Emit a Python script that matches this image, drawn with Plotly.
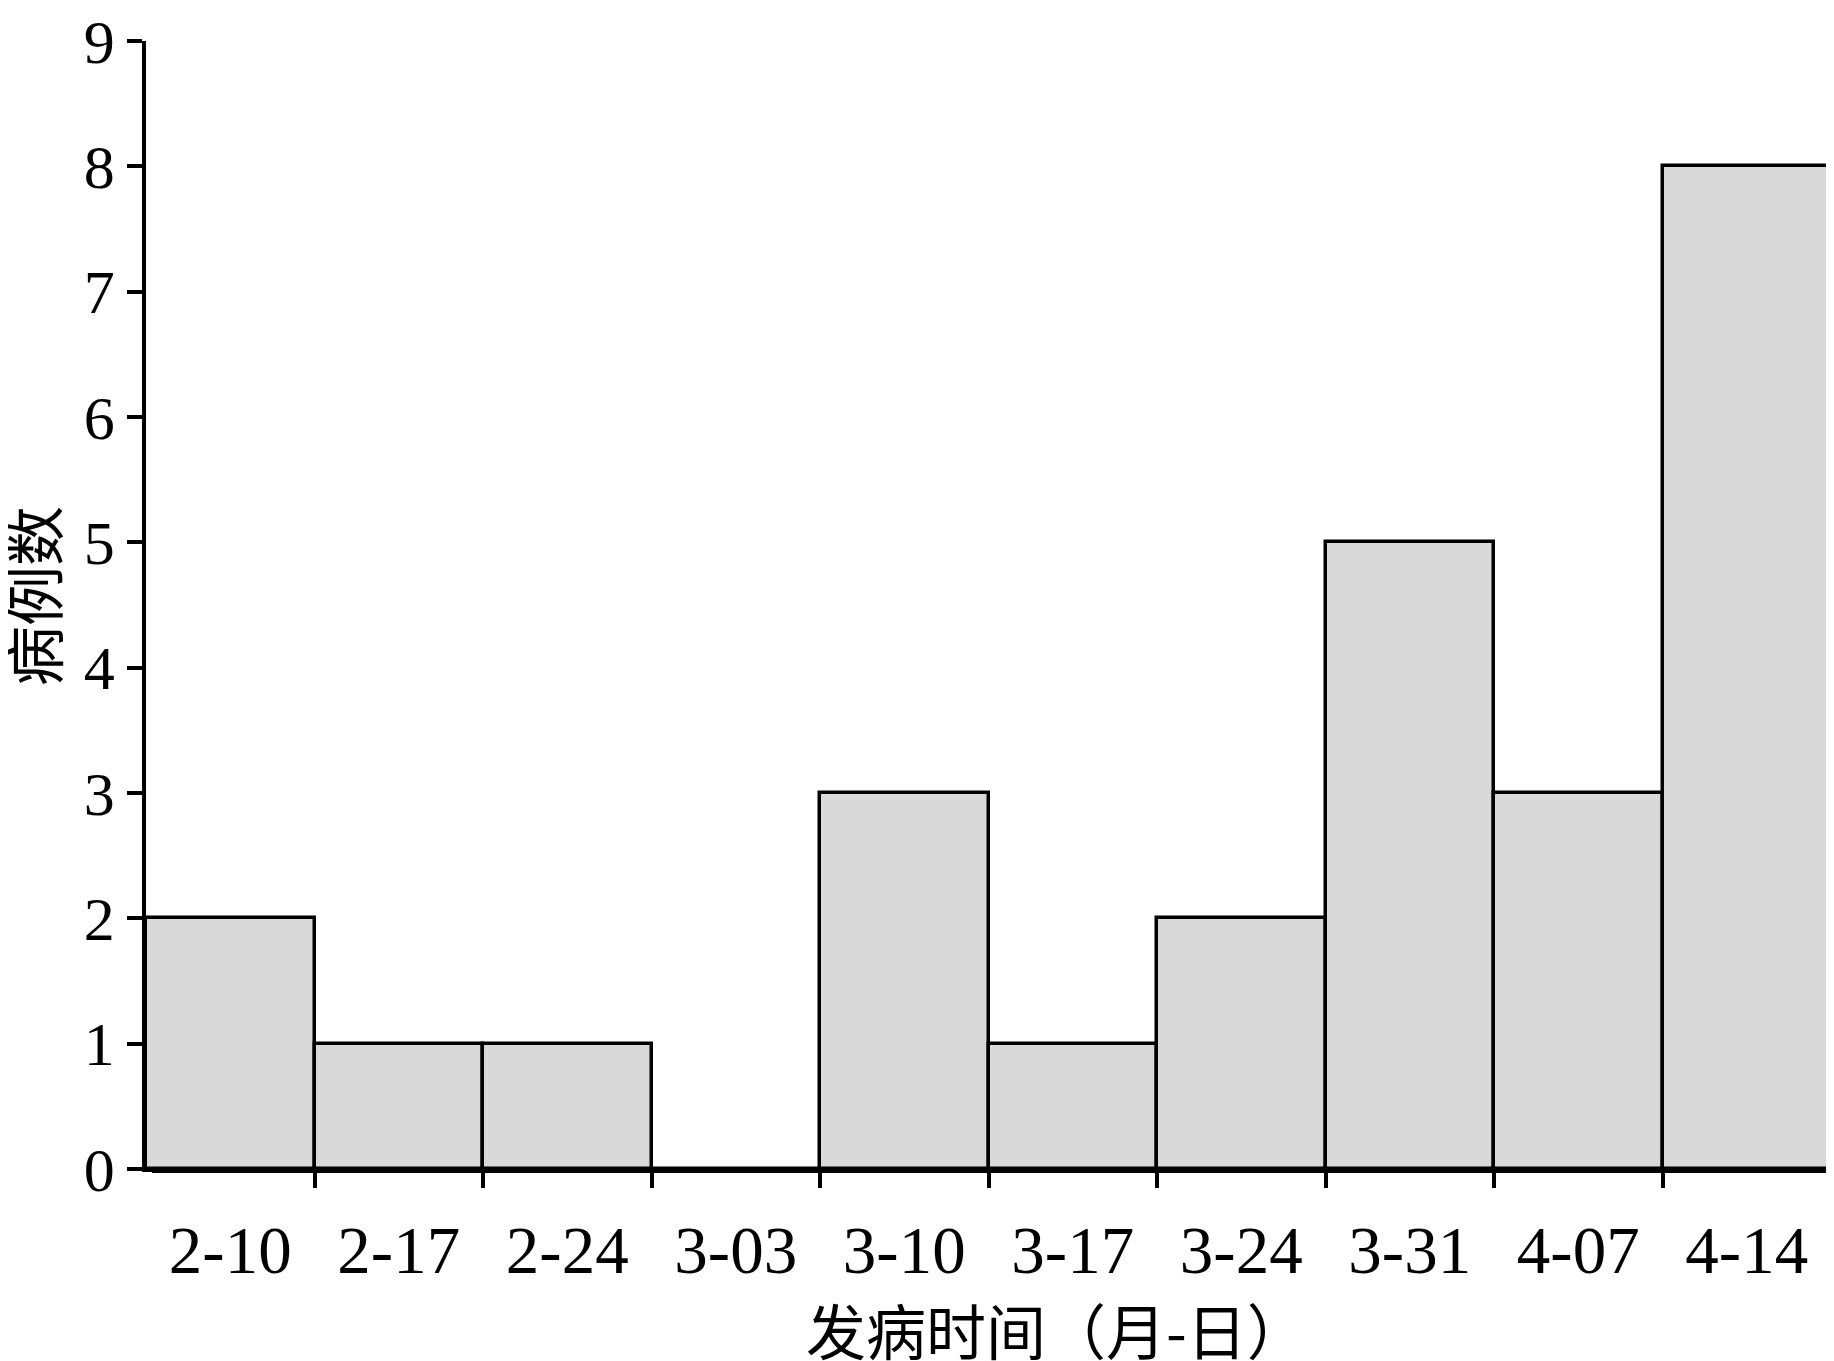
import plotly.graph_objects as go

categories = ["2-10", "2-17", "2-24", "3-03", "3-10", "3-17", "3-24", "3-31", "4-07", "4-14"]
cases = [2, 1, 1, 0, 3, 1, 2, 5, 3, 8]
y_ticks = [0, 1, 2, 3, 4, 5, 6, 7, 8, 9]
x_title = "发病时间（月-日）"
y_title = "病例数"

# page has an 8px body margin; size the figure to fill the 1834x1361 window
OFF = 8
W, H = 1834 - OFF, 1361 - OFF
L, R, T, B = 146 - OFF, 3, 41 - OFF, 192
pw = W - L - R
ph = H - T - B
plot_left = OFF + L
plot_bottom = OFF + H - B

serif = "Liberation Serif, Times New Roman, serif"
cjk = "Noto Sans CJK SC, sans-serif"

fig = go.Figure(
    go.Bar(
        x=categories,
        y=cases,
        width=1.0,
        marker=dict(color="#d9d9d9", line=dict(color="black", width=3.5)),
    )
)

fig.update_layout(
    width=W,
    height=H,
    margin=dict(l=L, r=R, t=T, b=B),
    plot_bgcolor="white",
    paper_bgcolor="white",
    showlegend=False,
    bargap=0,
    xaxis=dict(
        type="category",
        range=[-0.5, len(categories) - 0.5],
        automargin=False,
        showline=True,
        linecolor="black",
        linewidth=3.5,
        ticks="outside",
        tickson="boundaries",
        ticklen=15,
        tickwidth=3.5,
        tickcolor="black",
        showgrid=False,
        zeroline=False,
        ticklabelstandoff=20,
        ticklabeloverflow="allow",
        tickfont=dict(family=serif, size=67, color="black"),
    ),
    yaxis=dict(
        range=[0, 9],
        tickvals=y_ticks,
        automargin=False,
        showline=True,
        linecolor="black",
        linewidth=3.5,
        ticks="outside",
        ticklen=15,
        tickwidth=3.5,
        tickcolor="black",
        showgrid=False,
        zeroline=False,
        ticklabelstandoff=0,
        ticklabeloverflow="allow",
        tickfont=dict(family=serif, size=62, color="black"),
    ),
    shapes=[
        dict(
            type="rect", xref="paper", yref="paper", layer="above",
            x0=-8 / pw, x1=6 / pw, y0=-3 / ph, y1=-20 / ph,
            fillcolor="white", line=dict(width=0),
        )
    ],
    annotations=[
        dict(
            text=x_title,
            xref="paper", yref="paper",
            x=(1056 - plot_left) / pw, y=-(1328 - plot_bottom) / ph,
            xanchor="center", yanchor="middle",
            showarrow=False,
            font=dict(family=cjk, size=60, color="black"),
        ),
        dict(
            text=y_title,
            xref="paper", yref="paper",
            x=(31 - plot_left) / pw, y=(plot_bottom - 596) / ph,
            xanchor="center", yanchor="middle",
            textangle=-90,
            showarrow=False,
            font=dict(family=cjk, size=60, color="black"),
        ),
    ],
)

fig.write_html("out.html")
